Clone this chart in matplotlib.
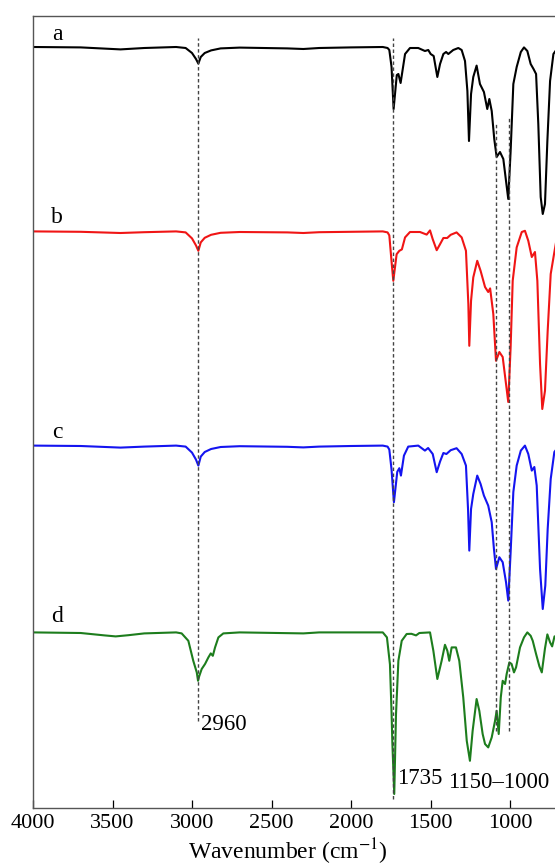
import matplotlib
matplotlib.use("Agg")
import matplotlib.pyplot as plt
import numpy as np

plt.rcParams['font.family'] = ['Liberation Serif', 'DejaVu Serif']
plt.rcParams['mathtext.fontset'] = 'stix'

# FTIR spectra, transmittance (%), baseline ~100
wn_a = [4000, 3700, 3450, 3300, 3100, 3040, 3000, 2975, 2960, 2945, 2920, 2880, 2820, 2700,
        2400, 2300, 2200, 2000, 1800, 1770, 1759, 1745, 1732, 1712, 1702, 1688, 1660, 1629,
        1577, 1535, 1514, 1499, 1480, 1457, 1440, 1419, 1402, 1388, 1357, 1325, 1304, 1283,
        1268, 1258, 1245, 1231, 1210, 1189, 1164, 1143, 1130, 1115, 1099, 1084, 1063, 1042,
        1025, 1011, 996, 979, 958, 932, 912, 891, 870, 852, 836, 822, 807, 794, 780, 765,
        748, 727, 705, 400]
t_a = [100, 99.8, 98.8, 99.5, 100, 99.5, 97, 94, 91.7, 95, 97, 98.3, 99.3, 99.7,
       99.3, 99.0, 99.5, 99.8, 100, 99.5, 98.5, 90, 69, 86, 86.5, 82, 96.5, 99.5,
       99.5, 98, 98.5, 96.5, 95.5, 85, 91.5, 96.5, 97.5, 96.5, 98.5, 99.5, 98.5, 93,
       78, 53, 76.5, 85, 90.7, 81.5, 77.5, 69, 74, 68, 54, 45, 47.5, 44,
       33, 24, 48, 81.5, 90, 97.5, 99.8, 98, 91.5, 89, 86.5, 61.5, 25, 16.5, 21.5, 53,
       83, 96.5, 99, 99]

wn_b = [4000, 3700, 3450, 3300, 3100, 3040, 3000, 2975, 2960, 2945, 2920, 2880, 2820, 2700,
        2400, 2300, 2200, 2000, 1800, 1770, 1759, 1745, 1734, 1713, 1696, 1680, 1660, 1629,
        1566, 1524, 1503, 1486, 1461, 1440, 1419, 1395, 1373, 1336, 1304, 1277, 1262, 1256,
        1245, 1231, 1206, 1185, 1157, 1137, 1125, 1105, 1088, 1067, 1046, 1025, 1011, 996,
        983, 958, 926, 906, 885, 863, 843, 828, 811, 797, 780, 763, 744, 723, 705, 400]
t_b = [100, 99.8, 99.2, 99.6, 100, 99.5, 96.5, 93, 90.3, 94.5, 96.8, 98.3, 99.3, 99.7,
       99.5, 99.2, 99.6, 99.8, 100, 99.5, 98, 85, 75.3, 88.6, 90.3, 91, 97, 99.7,
       99.7, 98.4, 100.5, 96.1, 90.6, 93.6, 96.7, 96.7, 98.3, 99.5, 97, 90.3, 63.7, 42.8,
       65.3, 77, 85.3, 80.3, 72.2, 69.7, 71.5, 58.7, 35.3, 39.7, 37.2, 23.7, 14.7, 42.2,
       75.3, 92, 99.7, 100.3, 95.3, 87.2, 89.7, 75.3, 33.7, 11.2, 20.3, 50.3, 78.7, 88.7, 97, 99]

wn_c = [4000, 3700, 3450, 3300, 3100, 3040, 3000, 2975, 2960, 2945, 2920, 2880, 2820, 2700,
        2400, 2300, 2200, 2000, 1800, 1770, 1759, 1745, 1730, 1709, 1696, 1686, 1667, 1640,
        1577, 1535, 1515, 1486, 1461, 1440, 1419, 1400, 1373, 1336, 1304, 1277, 1264, 1256,
        1245, 1231, 1206, 1185, 1164, 1137, 1115, 1101, 1088, 1067, 1046, 1025, 1011, 996,
        979, 958, 932, 906, 885, 863, 847, 832, 811, 794, 778, 763, 744, 721, 700, 400]
t_c = [100, 99.8, 99.0, 99.5, 100, 99.5, 96.5, 93, 90, 94.5, 96.8, 98.3, 99.3, 99.7,
       99.4, 99.1, 99.5, 99.8, 100, 99.5, 98, 88, 71.7, 86.9, 88.7, 85, 95, 99.5,
       100, 97.5, 98.8, 95.8, 86.7, 92, 96.3, 95.8, 97.7, 98.7, 95.8, 90, 68.3, 47.5,
       68.3, 75.8, 85, 80.8, 75, 70, 61.7, 48.3, 38.3, 44.2, 41.7, 31.7, 22.5, 46.8,
       76.8, 90, 97.5, 100, 95.8, 87.5, 89.3, 80, 38.3, 18.3, 30, 58.3, 83.3, 96.8, 99, 99]

wn_d = [4000, 3700, 3550, 3480, 3400, 3300, 3100, 3065, 3023, 2992, 2970, 2962, 2955, 2939,
        2918, 2897, 2882, 2869, 2855, 2834, 2803, 2700, 2300, 2200, 1800, 1774, 1755, 1745,
        1740, 1728, 1717, 1702, 1681, 1650, 1620, 1591, 1570, 1503, 1482, 1457, 1430, 1409,
        1394, 1382, 1367, 1340, 1319, 1294, 1272, 1252, 1235, 1210, 1193, 1172, 1157, 1137,
        1115, 1094, 1084, 1071, 1058, 1046, 1031, 1021, 1004, 990, 975, 962, 937, 912,
        891, 870, 857, 836, 815, 800, 780, 765, 748, 735, 720, 400]
t_d = [100, 99.7, 98.5, 98, 98.6, 99.5, 100, 99.5, 95.8, 85.8, 80, 75.8, 78, 81.7,
       84.2, 87.5, 89.5, 88.3, 92.5, 97.5, 99.5, 100, 99.5, 100, 100, 97.5, 84, 60,
       45, 19.2, 59, 85.8, 95.8, 99.2, 99.3, 98.5, 99.7, 100, 90.8, 76.7, 85.8, 93.8,
       90.8, 85.8, 92.5, 92.5, 85.8, 67.5, 45.8, 35.8, 50.8, 66.7, 60.8, 49.2, 44.2, 42.5,
       47.5, 55.8, 60.8, 49.2, 67.5, 75.8, 74.2, 79.2, 85, 84.2, 80, 82.5, 92.5, 97.5,
       100, 98.3, 95.8, 89.2, 83, 80, 92, 99, 95, 93, 98, 99]

spectra = [
    ('a', wn_a, t_a, 'black', 280.5),
    ('b', wn_b, t_b, '#f01515', 188.3),
    ('c', wn_c, t_c, '#1414f0', 81.2),
    ('d', wn_d, t_d, '#1d7d1d', -12.2),
]

marked_peaks = [2960, 1735, 1090, 1006]
peak_spans = [(0.11, 0.972), (0.011, 0.972), (0.097, 0.866), (0.097, 0.871)]

fig = plt.figure(figsize=(5.55, 8.67), dpi=100)
ax = fig.add_axes([33 / 555, 59 / 867, 572.4 / 555, 792 / 867])

for name, wn, t, col, off in spectra:
    ax.plot(wn, np.array(t) + off, color=col, lw=1.5, solid_joinstyle='round')

for p, (lo, hi) in zip(marked_peaks, peak_spans):
    ax.axvline(p, ymin=lo, ymax=hi, color='#444444', lw=1.0, ls=(0, (2.5, 1.8)))

ax.set_xlim(4000, 400)
ax.set_ylim(0, 396)
ax.set_yticks([])
ax.set_xticks([4000, 3500, 3000, 2500, 2000, 1500, 1000])
ax.tick_params(axis='x', direction='in', length=5.5, width=0.9, labelsize=16, pad=4)
for s in ax.spines.values():
    s.set_color('#555555')
    s.set_linewidth(1.0)

ax.set_xlabel('Wavenumber (cm$^{-1}$)', fontsize=17)
ax.xaxis.set_label_coords((288 - 33) / 572.4, -0.036)

for name, y in zip(['a', 'b', 'c', 'd'], [35, 218, 433, 617]):
    fig.text(57 / 555, 1 - y / 867, name, fontsize=17, ha='center', va='center')

fig.text(201 / 555, 1 - 724 / 867, '2960', fontsize=16.5, ha='left', va='center')
fig.text(397 / 555, 1 - 779 / 867, '1735', fontsize=16.5, ha='left', va='center')
fig.text(448 / 555, 1 - 783 / 867, '1150\u20131000', fontsize=16.5, ha='left', va='center')

fig.savefig('out.png', dpi=100)
